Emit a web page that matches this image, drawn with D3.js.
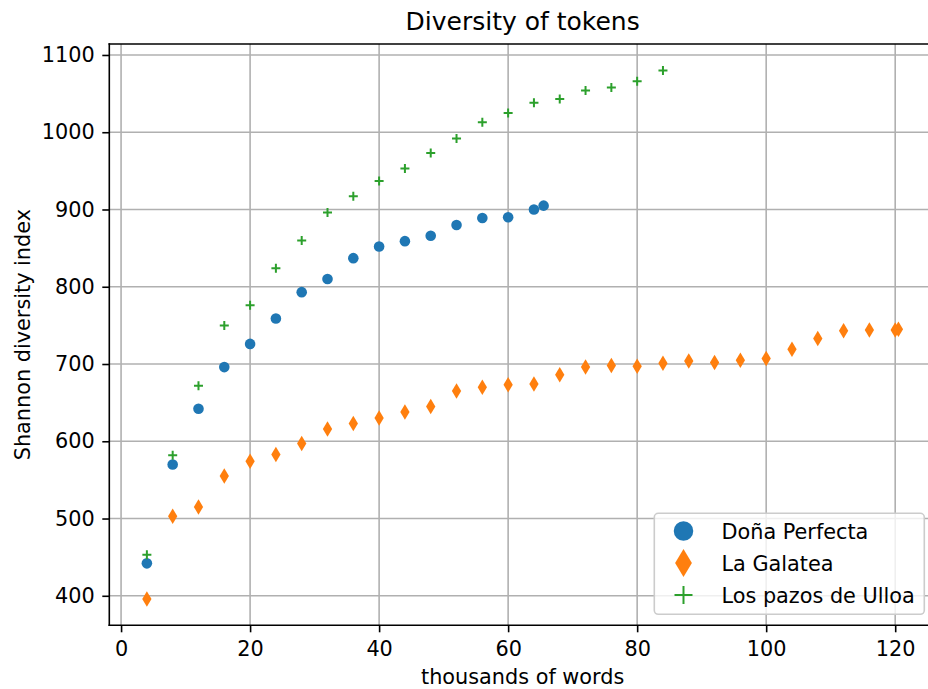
<!DOCTYPE html>
<html>
<head>
<meta charset="utf-8">
<script src="https://cdn.jsdelivr.net/npm/d3@7"></script>
<style>
  html, body { margin: 0; padding: 0; background: #fff; overflow: hidden; }
  svg { display: block; font-family: "DejaVu Sans", sans-serif; }
</style>
</head>
<body>
<svg id="chart" width="928" height="689"></svg>
<script>
// ---- data ----
const perfectaX = [4, 8, 12, 16, 20, 24, 28, 32, 36, 40, 44, 48, 52, 56, 60, 64, 65.5];
const perfectaY = [442, 570, 642, 696, 726, 759, 793, 810, 837, 852, 859, 866, 880, 889, 890, 900, 905];

const galateaX = [4, 8, 12, 16, 20, 24, 28, 32, 36, 40, 44, 48, 52, 56, 60, 64, 68, 72, 76, 80, 84, 88, 92, 96, 100, 104, 108, 112, 116, 120, 120.5];
const galateaY = [396, 503, 515, 555, 574, 583, 597, 616, 623, 630, 638, 645, 665, 670, 673, 674, 686, 696, 698, 697, 701, 704, 702, 705, 707, 719, 733, 743, 744, 744, 745];

const pazosX = [4, 8, 12, 16, 20, 24, 28, 32, 36, 40, 44, 48, 52, 56, 60, 64, 68, 72, 76, 80, 84];
const pazosY = [453, 582, 672, 750, 776, 824, 860, 896, 917, 937, 953, 973, 992, 1013, 1025, 1038, 1043, 1054, 1058, 1066, 1080];

const seriesNames = ["Doña Perfecta", "La Galatea", "Los pazos de Ulloa"];
const xTicks = [0, 20, 40, 60, 80, 100, 120];
const yTicks = [400, 500, 600, 700, 800, 900, 1000, 1100];

const titleText = "Diversity of tokens";
const xLabel = "thousands of words";
const yLabel = "Shannon diversity index";

// ---- layout ----
const colors = ["#1f77b4", "#ff7f0e", "#2ca02c"];
const pLeft = 109.3, pRight = 936, pTop = 44, pBottom = 625.3;
const fs = 20.8;

const allX = perfectaX.concat(galateaX, pazosX);
const allY = perfectaY.concat(galateaY, pazosY);
const [x0, x1] = d3.extent(allX), [y0, y1] = d3.extent(allY);
const mx = (x1 - x0) * 0.05, my = (y1 - y0) * 0.05;

const x = d3.scaleLinear().domain([x0 - mx, x1 + mx]).range([pLeft, pRight]);
const y = d3.scaleLinear().domain([y0 - my, y1 + my]).range([pBottom, pTop]);

const svg = d3.select("#chart");

// grid
const grid = svg.append("g").attr("stroke", "#b0b0b0").attr("stroke-width", 1.6);
grid.selectAll("line.gx").data(xTicks).join("line").attr("class", "gx")
  .attr("x1", d => x(d)).attr("x2", d => x(d)).attr("y1", pTop).attr("y2", pBottom);
grid.selectAll("line.gy").data(yTicks).join("line").attr("class", "gy")
  .attr("x1", pLeft).attr("x2", pRight).attr("y1", d => y(d)).attr("y2", d => y(d));

// axes
const fmt = d3.format("d");
const xAxis = d3.axisBottom(x).tickValues(xTicks).tickFormat(fmt).tickSize(7).tickPadding(9).tickSizeOuter(0);
const yAxis = d3.axisLeft(y).tickValues(yTicks).tickFormat(fmt).tickSize(7).tickPadding(7.5).tickSizeOuter(0);

const gx = svg.append("g").attr("transform", `translate(0,${pBottom})`).call(xAxis);
const gy = svg.append("g").attr("transform", `translate(${pLeft},0)`).call(yAxis);
[gx, gy].forEach(g => {
  g.select(".domain").remove();
  g.selectAll(".tick line").attr("stroke", "#000").attr("stroke-width", 1.6);
  g.selectAll(".tick text").attr("fill", "#000").style("font-size", fs + "px")
    .style("font-family", "'DejaVu Sans', sans-serif");
});

// spines (left, top, bottom; right lies beyond the picture)
const spine = (x1_, y1_, x2_, y2_) => svg.append("line")
  .attr("x1", x1_).attr("y1", y1_).attr("x2", x2_).attr("y2", y2_)
  .attr("stroke", "#000").attr("stroke-width", 1.6).attr("stroke-linecap", "square");
spine(pLeft, pTop, pLeft, pBottom);
spine(pLeft, pTop, pRight, pTop);
spine(pLeft, pBottom, pRight, pBottom);

// marker shapes
function circlePath(s) { const r = s / 2; return `M${-r},0A${r},${r} 0 1,0 ${r},0A${r},${r} 0 1,0 ${-r},0Z`; }
function diamondPath(h) { const w = h * 0.3, v = h / 2; return `M0,${-v}L${w},0L0,${v}L${-w},0Z`; }
function plusPath(s) { const r = s / 2; return `M${-r},0H${r}M0,${-r}V${r}`; }

const plot = svg.append("g");

const pData = perfectaX.map((d, i) => [d, perfectaY[i]]);
const gData = galateaX.map((d, i) => [d, galateaY[i]]);
const zData = pazosX.map((d, i) => [d, pazosY[i]]);

plot.append("g").selectAll("path").data(pData).join("path")
  .attr("d", circlePath(10.6))
  .attr("transform", d => `translate(${x(d[0])},${y(d[1])})`)
  .attr("fill", colors[0]);

plot.append("g").selectAll("path").data(gData).join("path")
  .attr("d", diamondPath(15.5))
  .attr("transform", d => `translate(${x(d[0])},${y(d[1])})`)
  .attr("fill", colors[1]);

plot.append("g").selectAll("path").data(zData).join("path")
  .attr("d", plusPath(9))
  .attr("transform", d => `translate(${x(d[0])},${y(d[1])})`)
  .attr("fill", "none").attr("stroke", colors[2]).attr("stroke-width", 2);

// title and labels
svg.append("text").attr("x", (pLeft + pRight) / 2).attr("y", 30)
  .attr("text-anchor", "middle").style("font-size", "25px").attr("fill", "#000").text(titleText);
svg.append("text").attr("x", (pLeft + pRight) / 2).attr("y", 684)
  .attr("text-anchor", "middle").style("font-size", fs + "px").attr("fill", "#000").text(xLabel);
svg.append("text").attr("transform", `translate(29.5,${(pTop + pBottom) / 2}) rotate(-90)`)
  .attr("text-anchor", "middle").style("font-size", fs + "px").attr("fill", "#000").text(yLabel);

// legend
const lg = svg.append("g");
lg.append("rect").attr("x", 654.3).attr("y", 513.3).attr("width", 270).attr("height", 101)
  .attr("rx", 4).attr("fill", "#fff").attr("fill-opacity", 0.8)
  .attr("stroke", "#cccccc").attr("stroke-width", 1.6);
const legendShapes = [
  { d: circlePath(19.5), fill: colors[0], stroke: "none" },
  { d: diamondPath(28), fill: colors[1], stroke: "none" },
  { d: plusPath(18), fill: "none", stroke: colors[2] }
];
seriesNames.forEach((name, i) => {
  const cy = 531 + i * 32;
  lg.append("path").attr("d", legendShapes[i].d)
    .attr("transform", `translate(683.5,${cy})`)
    .attr("fill", legendShapes[i].fill).attr("stroke", legendShapes[i].stroke).attr("stroke-width", 2);
  lg.append("text").attr("x", 721.5).attr("y", cy + 7.5).style("font-size", fs + "px")
    .attr("fill", "#000").text(name);
});
</script>
</body>
</html>
